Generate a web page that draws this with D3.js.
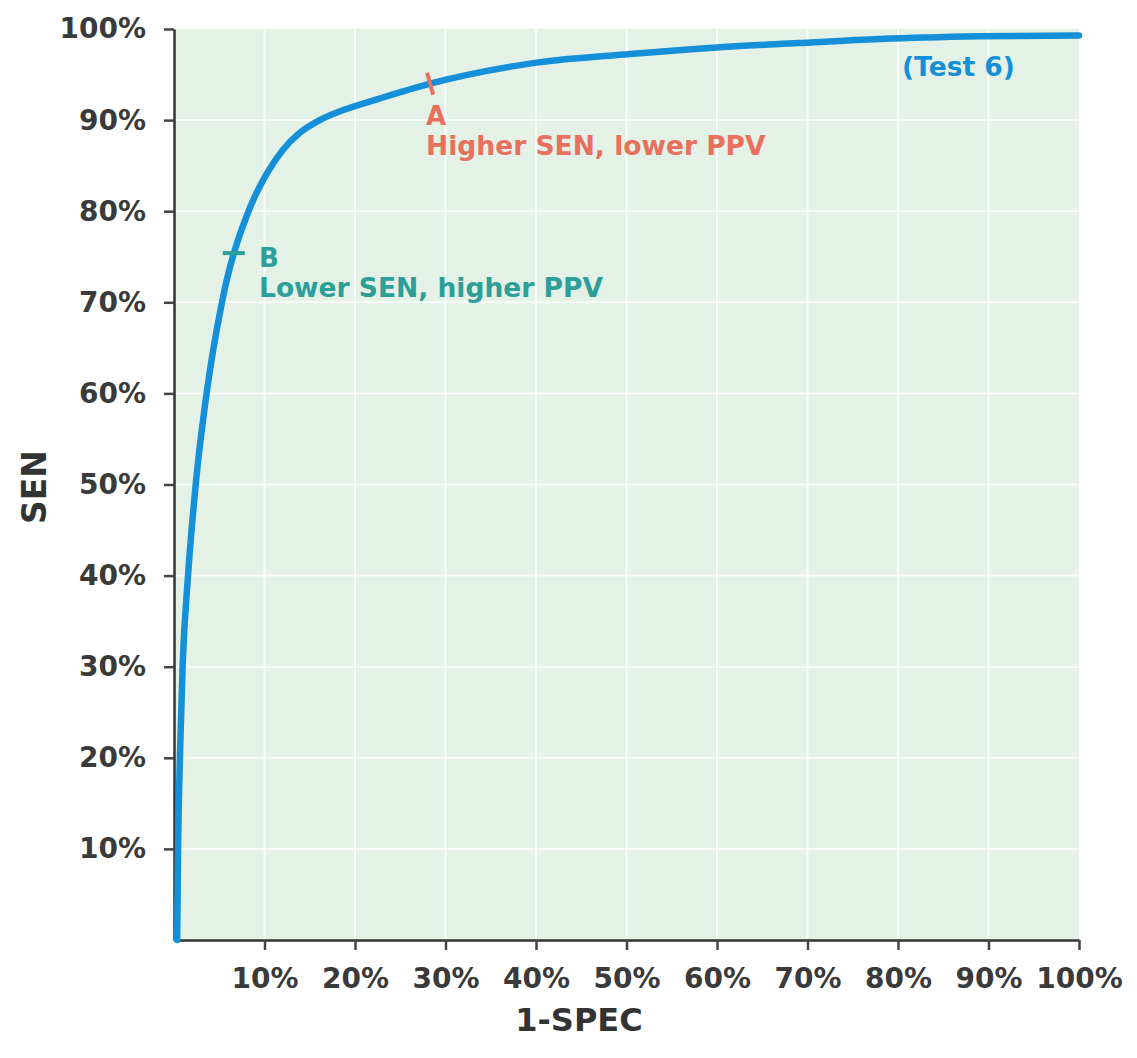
<!DOCTYPE html>
<html><head><meta charset="utf-8">
<script src="https://cdn.jsdelivr.net/npm/d3@7"></script>
<style>
body{margin:0;background:#fff}
text{font-family:"DejaVu Sans",Verdana,sans-serif;font-weight:bold}
</style>
</head><body>
<svg id="c" width="1137" height="1058"></svg>
<script>
// ROC curve (Test 6): 1-SPEC (%) vs SEN (%)
const fpr = [0.35, 0.45, 0.65, 0.95, 1.55, 2.4, 3.6, 5.3, 8.4, 10.3, 12.0, 13.9, 16.1, 18.7, 22.5, 28.3, 39.3, 50.4, 59.6, 69.0, 78.0, 89.0, 100];
const sen = [0, 10, 20, 30, 40, 50, 60, 70, 80.4, 84.2, 86.7, 88.6, 90.0, 91.1, 92.3, 94.0, 96.2, 97.25, 97.95, 98.45, 98.9, 99.2, 99.3];
const xTicks = [10, 20, 30, 40, 50, 60, 70, 80, 90, 100];
const yTicks = [10, 20, 30, 40, 50, 60, 70, 80, 90, 100];
const gridVals = [10, 20, 30, 40, 50, 60, 70, 80, 90];
const pointA = {x: 28.3, y: 94.0, label: "A", note: "Higher SEN, lower PPV"};
const pointB = {x: 6.6, y: 75.4, label: "B", note: "Lower SEN, higher PPV"};
const seriesName = "(Test 6)";

const svg = d3.select("#c");
svg.append("rect").attr("width",1137).attr("height",1058).attr("fill","#fff");
const x = d3.scaleLinear().domain([0,100]).range([174,1079]);
const y = d3.scaleLinear().domain([0,100]).range([940,29]);

// plot background
svg.append("rect").attr("x",x(0)).attr("y",y(100))
  .attr("width",x(100)-x(0)).attr("height",y(0)-y(100)).attr("fill","#e3f1e6");

// grid
const g = svg.append("g");
g.selectAll(".gh").data(gridVals).join("line")
  .attr("x1",x(0)).attr("x2",x(100)).attr("y1",d=>y(d)).attr("y2",d=>y(d))
  .attr("stroke","#fff").attr("stroke-width",2).attr("opacity",0.85);
g.selectAll(".gv").data(gridVals).join("line")
  .attr("y1",y(0)).attr("y2",y(100)).attr("x1",d=>x(d)).attr("x2",d=>x(d))
  .attr("stroke","#fff").attr("stroke-width",2).attr("opacity",0.85);

// axes
const yAxis = d3.axisLeft(y).tickValues(yTicks).tickSize(10).tickSizeOuter(0).tickPadding(18).tickFormat(d=>d+"%");
const xAxis = d3.axisBottom(x).tickValues(xTicks).tickSize(10).tickSizeOuter(0).tickPadding(14).tickFormat(d=>d+"%");
const ya = svg.append("g").attr("transform",`translate(${x(0)},0)`).call(yAxis);
const xa = svg.append("g").attr("transform",`translate(0,${y(0)})`).call(xAxis);
[ya,xa].forEach(a=>{
  a.select(".domain").attr("stroke","#333").attr("stroke-width",2.5);
  a.selectAll(".tick line").attr("stroke","#444").attr("stroke-width",2.5);
  a.selectAll(".tick text").attr("fill","#3a3a3a").style("font-size","28px")
   .style("font-family",'"DejaVu Sans",Verdana,sans-serif').style("font-weight","bold");
});
xa.selectAll(".tick text").attr("dy","0.85em");

// axis titles
svg.append("text").attr("transform","translate(46,487) rotate(-90)")
  .attr("text-anchor","middle").attr("fill","#333").style("font-size","33px").text("SEN");
svg.append("text").attr("x",579).attr("y",1031)
  .attr("text-anchor","middle").attr("fill","#333").style("font-size","32px").text("1-SPEC");

// curve
const pts = fpr.map((v,i)=>[v,sen[i]]);
const line = d3.line().x(d=>x(d[0])).y(d=>y(d[1])).curve(d3.curveMonotoneX);
svg.append("path").datum(pts).attr("d",line).attr("fill","none")
  .attr("stroke","#1590d8").attr("stroke-width",6.5).attr("stroke-linecap","round");

// marker A (red)
const red = "#e8705c", teal = "#2b9f98";
svg.append("line").attr("x1",x(pointA.x)-3).attr("y1",y(pointA.y)-11)
  .attr("x2",x(pointA.x)+3).attr("y2",y(pointA.y)+11)
  .attr("stroke",red).attr("stroke-width",4);
svg.append("text").attr("x",x(pointA.x)-4).attr("y",125).attr("fill",red)
  .style("font-size","26px").text(pointA.label);
svg.append("text").attr("x",x(pointA.x)-4).attr("y",155).attr("fill",red)
  .style("font-size","26.5px").text(pointA.note);

// marker B (teal)
svg.append("line").attr("x1",x(pointB.x)-11).attr("y1",y(pointB.y))
  .attr("x2",x(pointB.x)+11).attr("y2",y(pointB.y))
  .attr("stroke",teal).attr("stroke-width",4);
svg.append("text").attr("x",259).attr("y",267).attr("fill",teal)
  .style("font-size","26px").text(pointB.label);
svg.append("text").attr("x",259).attr("y",297).attr("fill",teal)
  .style("font-size","26.5px").text(pointB.note);

// series label
svg.append("text").attr("x",902).attr("y",76).attr("fill","#1590d8")
  .style("font-size","26.5px").text(seriesName);
</script>
</body></html>
